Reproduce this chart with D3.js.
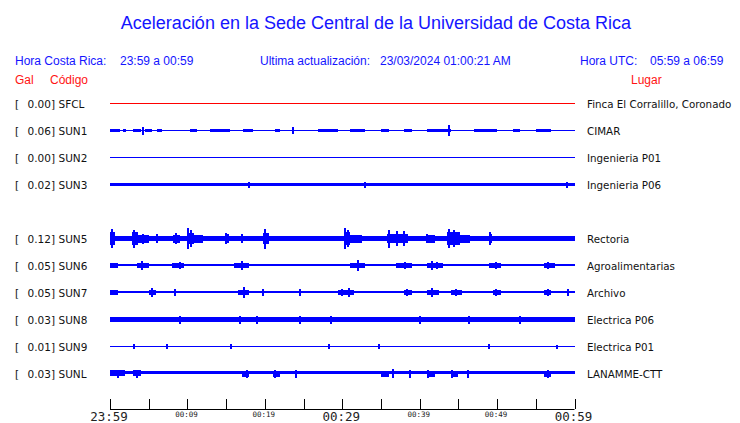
<!DOCTYPE html>
<html><head><meta charset="utf-8">
<script src="https://cdn.jsdelivr.net/npm/d3@7"></script>
<style>body{margin:0;background:#fff}svg{display:block}</style>
</head><body>
<script>
// ---- data ----
const slots = ["SFCL","SUN1","SUN2","SUN3","SUN4","SUN5","SUN6","SUN7","SUN8","SUN9","SUNL"];
const stations = ["SFCL","SUN1","SUN2","SUN3","SUN5","SUN6","SUN7","SUN8","SUN9","SUNL"];
const peakGal = [0.00,0.06,0.00,0.02,0.12,0.05,0.05,0.03,0.01,0.03];
const places = ["Finca El Corralillo, Coronado","CIMAR","Ingenieria P01","Ingenieria P06","Rectoria","Agroalimentarias","Archivo","Electrica P06","Electrica P01","LANAMME-CTT"];
const traceColors = ["#ff0000","#0000ff","#0000ff","#0000ff","#0000ff","#0000ff","#0000ff","#0000ff","#0000ff","#0000ff"];
// continuous noise half-amplitude (relative counts)
const baseNoise = [0.5,0.5,0.5,1.5,2.5,1.0,1.2,2.3,0.5,1.7];
// thickened stretches [startMin, endMin, amp]
const noiseSegs = [
  [],
  [[0,1.3,1],[1.7,2.1,1],[3,4,1],[4.5,5.4,1],[6.1,6.7,1],[10.3,11.3,1],[12.9,15.5,1],[17.2,18.5,1],[21.3,22,1],[26.9,29.4,1],[31,33,1],[35,36,1],[38,39,1],[41,44,1],[47,50,1],[52,53,1],[55,57,1]],
  [],
  [],
  [[0,0.6,6],[2.8,3.6,6],[3.6,5,3.5],[8.2,9,3.5],[9.9,10.8,5],[10.8,12,3.5],[14.8,15.4,4],[19.8,20.6,5],[30.2,31,6],[31,32.5,3.5],[35.8,38.5,4],[40.8,42,3.5],[43.5,45.2,6],[45.2,46.5,3.5],[48.9,49.4,4]],
  [[0,1,2],[3.5,5,2],[8,9.5,2],[16,18,2],[31,33,2],[37,39,2],[41,43,2],[49,50.5,2],[56,57.5,2]],
  [[0,1,2.2],[5,6,2.2],[16.5,18,2.2],[29.5,31.5,2.2],[38,39,2],[41,42.5,2.2],[44,45.5,2],[49.5,50.5,2],[56,57,2]],
  [],
  [],
  [[0,2,2.7],[3,4,2.7],[17,18,2.5],[21,22,2.5],[35,36,2.5],[41,42,2.5],[44,45,2.5],[56,57,2.5]]
];
// isolated peaks [minute, amp]
const spikes = [
  [],
  [[4.2,3.5],[23.6,3],[43.8,5]],
  [],
  [[18,2.5],[33,2.5],[59,2.5]],
  [[0.2,9],[3.1,8.5],[4.3,4.5],[6.1,4],[8.5,5],[10.1,10],[10.4,8],[15,5],[17.1,4],[20,9.5],[30.4,10],[30.7,8],[36.1,8.5],[37.1,7],[38,7],[41,4],[43.8,9],[44.4,8],[49.1,6]],
  [[4.1,4],[9,3],[17,4],[32,5],[38.1,3],[41.6,4],[42.3,3],[49.9,3],[56.6,3]],
  [[5.4,4],[8.4,3],[17.3,5],[19.7,3],[24.6,3],[30,3],[30.9,4],[38.4,3],[41.6,4],[44.7,3],[49.9,3],[56.6,3],[59.1,3]],
  [[9,3.5],[16.8,3.5],[19,3.5],[24.6,3.5],[28.5,3.5],[40,3.5],[46.4,3.5],[52.9,3.5]],
  [[3.1,2],[7.4,2],[15.6,2],[28.3,2],[34.7,2],[48.9,2],[57.7,1.5]],
  [[1,3.5],[3.5,3.5],[17.7,3.5],[21.3,3.5],[24,3.5],[36.6,4],[38.8,3.5],[41.1,3.5],[44.2,3.5],[46.2,3.5],[56.6,3.5]]
];
const tickMinutes = [0,5,10,15,20,25,30,35,40,45,50,55,60];
const tickLabels = {0:"23:59",10:"00:09",20:"00:19",30:"00:29",40:"00:39",50:"00:49",60:"00:59"};
const bigLabels = [0,30,60];

// ---- drawing ----
const W=740,H=423;
const svg=d3.select("body").append("svg").attr("width",W).attr("height",H);
const x=d3.scaleLinear().domain([0,60]).range([110,574.5]);
const y=d3.scalePoint().domain(slots).range([103,373]);
const amp=d3.scaleLinear().domain([0,10]).range([0,10]);

svg.append("text").attr("x",376).attr("y",29).attr("text-anchor","middle")
  .attr("font-family","Liberation Sans, Arial, sans-serif").attr("font-size",18).attr("fill","#1414ff")
  .text("Aceleración en la Sede Central de la Universidad de Costa Rica");

const hdr=(t,xx,yy,col,anchor)=>svg.append("text").attr("x",xx).attr("y",yy).attr("text-anchor",anchor||"start")
  .attr("font-family","Liberation Sans, Arial, sans-serif").attr("font-size",12).attr("fill",col).text(t);
const B="#1414ff",R="#ff1414";
hdr("Hora Costa Rica:",15,65,B);hdr("23:59 a 00:59",120,65,B);
hdr("Ultima actualización:",260,65,B);hdr("23/03/2024 01:00:21 AM",380,65,B);
hdr("Hora UTC:",580,65,B);hdr("05:59 a 06:59",650,65,B);
hdr("Gal",15,84,R);hdr("Código",50,84,R);hdr("Lugar",631,84,R);

const lf="DejaVu Sans, sans-serif";
stations.forEach((s,i)=>{
  const yy=y(s);
  const g=svg.append("g").attr("shape-rendering","crispEdges");
  g.append("text").attr("x",15).attr("y",yy+4.5).attr("font-family",lf).attr("font-size",10.5).attr("fill","#111").text("[");
  g.append("text").attr("x",55).attr("y",yy+4.5).attr("text-anchor","end").attr("font-family",lf).attr("font-size",10.5).attr("fill","#111").text(peakGal[i].toFixed(2)+"]");
  g.append("text").attr("x",58.5).attr("y",yy+4.5).attr("font-family",lf).attr("font-size",10.5).attr("fill","#111").text(s);
  g.append("text").attr("x",587).attr("y",yy+4.5).attr("font-family",lf).attr("font-size",10.3).attr("fill","#111").text(places[i]);
  const c=traceColors[i];
  const bh=Math.max(1,2*amp(baseNoise[i]));
  g.append("rect").attr("x",x(0)).attr("width",x(60)-x(0)).attr("y",Math.round(yy-bh/2)).attr("height",Math.round(bh)).attr("fill",c);
  g.selectAll("rect.seg").data(noiseSegs[i]).join("rect").attr("class","seg")
    .attr("x",d=>x(d[0])).attr("width",d=>x(d[1])-x(d[0])).attr("y",d=>Math.round(yy-amp(d[2]))).attr("height",d=>Math.round(2*amp(d[2]))+1).attr("fill",c);
  g.selectAll("rect.sp").data(spikes[i]).join("rect").attr("class","sp")
    .attr("x",d=>Math.round(x(d[0]))-1).attr("width",2).attr("y",d=>Math.round(yy-amp(d[1]))).attr("height",d=>Math.round(2*amp(d[1]))+1).attr("fill",c);
});

// axis
const ax=svg.append("g").attr("transform","translate(0,409)");
ax.append("line").attr("x1",x(0)).attr("x2",x(60)).attr("y1",0.5).attr("y2",0.5).attr("stroke","#000");
ax.selectAll("line.t").data(tickMinutes).join("line").attr("class","t")
  .attr("x1",d=>Math.round(x(d))+0.5).attr("x2",d=>Math.round(x(d))+0.5).attr("y1",0).attr("y2",-10).attr("stroke","#000");
ax.selectAll("text").data(Object.keys(tickLabels).map(Number)).join("text")
  .attr("x",d=>x(d)-1).attr("y",d=>bigLabels.includes(d)?12:8).attr("text-anchor","middle")
  .attr("font-family","DejaVu Sans Mono, monospace").attr("font-size",d=>bigLabels.includes(d)?12.5:7.5)
  .attr("font-weight","300").attr("fill","#222").text(d=>tickLabels[d]);
</script>
</body></html>
